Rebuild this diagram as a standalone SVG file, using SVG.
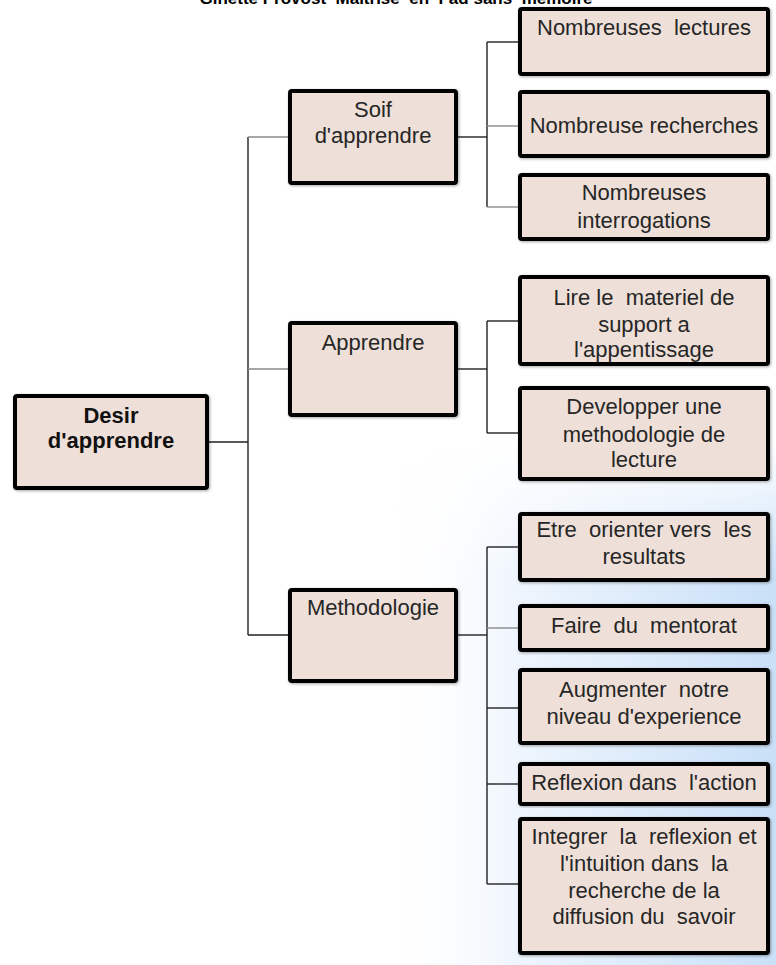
<svg xmlns="http://www.w3.org/2000/svg" width="776" height="965" viewBox="0 0 776 965">
<defs>
<linearGradient id="bgH" x1="380" y1="0" x2="776" y2="0" gradientUnits="userSpaceOnUse">
<stop offset="0" stop-color="#ffffff" stop-opacity="0"/>
<stop offset="0.35" stop-color="#eef5fd"/>
<stop offset="1" stop-color="#c9e0f8"/>
</linearGradient>
<linearGradient id="bgV" x1="0" y1="440" x2="0" y2="580" gradientUnits="userSpaceOnUse">
<stop offset="0" stop-color="#ffffff" stop-opacity="1"/>
<stop offset="1" stop-color="#ffffff" stop-opacity="0"/>
</linearGradient>
<filter id="sh" x="-10%" y="-10%" width="120%" height="120%">
<feDropShadow dx="1" dy="1" stdDeviation="1.5" flood-color="#000" flood-opacity="0.35"/>
</filter>
</defs>
<style>
.box{fill:#eee0d8;stroke:#000;stroke-width:4;filter:url(#sh)}
.t{font-family:"Liberation Sans",Arial,sans-serif;font-size:22px;fill:#262626;text-anchor:middle;white-space:pre}
.tb{font-family:"Liberation Sans",Arial,sans-serif;font-size:22px;font-weight:bold;fill:#111;text-anchor:middle}
.title{font-family:"Liberation Sans",Arial,sans-serif;font-size:17px;font-weight:bold;fill:#000;text-anchor:middle;white-space:pre}
.c{stroke:#222;stroke-width:1.4;fill:none}
.g{stroke:#8a8a8a;stroke-width:1.4;fill:none}
</style>
<rect x="0" y="0" width="776" height="965" fill="#ffffff"/>
<rect x="380" y="440" width="396" height="525" fill="url(#bgH)"/>
<rect x="380" y="440" width="396" height="140" fill="url(#bgV)"/>

<text class="title" x="396" y="4">Ginette Provost  Maitrise  en  Fad sans  memoire</text>

<g id="connectors">
<path class="c" d="M209 442H248"/>
<path class="c" d="M248 137V635"/>
<path class="g" d="M248 137H288"/>
<path class="g" d="M248 369H288"/>
<path class="c" d="M248 635H288"/>
<path class="c" d="M457 137H487"/>
<path class="c" d="M487 42V207"/>
<path class="c" d="M487 42H518"/>
<path class="g" d="M487 126H518"/>
<path class="g" d="M487 207H518"/>
<path class="c" d="M458 369H487"/>
<path class="c" d="M487 321V433"/>
<path class="c" d="M487 321H518"/>
<path class="c" d="M487 433H518"/>
<path class="c" d="M458 635H487"/>
<path class="c" d="M487 547V884"/>
<path class="c" d="M487 547H518"/>
<path class="g" d="M487 628H518"/>
<path class="c" d="M487 708H518"/>
<path class="c" d="M487 784H518"/>
<path class="c" d="M487 884H518"/>
</g>

<g id="desir">
<rect class="box" x="15" y="396" width="192" height="92" rx="2"/>
<text class="tb" x="111" y="423">Desir</text>
<text class="tb" x="111" y="448">d'apprendre</text>
</g>

<g id="soif">
<rect class="box" x="290" y="91" width="166" height="92" rx="2"/>
<text class="t" x="373" y="117">Soif</text>
<text class="t" x="373" y="143">d'apprendre</text>
</g>

<g id="apprendre">
<rect class="box" x="290" y="323" width="166" height="92" rx="2"/>
<text class="t" x="373" y="350">Apprendre</text>
</g>

<g id="methodologie">
<rect class="box" x="290" y="590" width="166" height="91" rx="2"/>
<text class="t" x="373" y="615">Methodologie</text>
</g>

<g id="lectures">
<rect class="box" x="520" y="9" width="248" height="65" rx="2"/>
<text class="t" x="644" y="35">Nombreuses  lectures</text>
</g>

<g id="recherches">
<rect class="box" x="520" y="92" width="248" height="64" rx="2"/>
<text class="t" x="644" y="133">Nombreuse recherches</text>
</g>

<g id="interrogations">
<rect class="box" x="520" y="175" width="248" height="64" rx="2"/>
<text class="t" x="644" y="200">Nombreuses</text>
<text class="t" x="644" y="228">interrogations</text>
</g>

<g id="lire">
<rect class="box" x="520" y="277" width="248" height="87" rx="2"/>
<text class="t" x="644" y="305">Lire le  materiel de</text>
<text class="t" x="644" y="332">support a</text>
<text class="t" x="644" y="357">l'appentissage</text>
</g>

<g id="developper">
<rect class="box" x="520" y="388" width="248" height="91" rx="2"/>
<text class="t" x="644" y="414">Developper une</text>
<text class="t" x="644" y="442">methodologie de</text>
<text class="t" x="644" y="467">lecture</text>
</g>

<g id="etre">
<rect class="box" x="520" y="514" width="248" height="66" rx="2"/>
<text class="t" x="644" y="537">Etre  orienter vers  les</text>
<text class="t" x="644" y="564">resultats</text>
</g>

<g id="faire">
<rect class="box" x="520" y="606" width="248" height="44" rx="2"/>
<text class="t" x="644" y="633">Faire  du  mentorat</text>
</g>

<g id="augmenter">
<rect class="box" x="520" y="670" width="248" height="73" rx="2"/>
<text class="t" x="644" y="697">Augmenter  notre</text>
<text class="t" x="644" y="724">niveau d'experience</text>
</g>

<g id="reflexion">
<rect class="box" x="520" y="764" width="248" height="40" rx="2"/>
<text class="t" x="644" y="790">Reflexion dans  l'action</text>
</g>

<g id="integrer">
<rect class="box" x="520" y="819" width="248" height="134" rx="2"/>
<text class="t" x="644" y="844">Integrer  la  reflexion et</text>
<text class="t" x="644" y="871">l'intuition dans  la</text>
<text class="t" x="644" y="898">recherche de la</text>
<text class="t" x="644" y="924">diffusion du  savoir</text>
</g>
</svg>
